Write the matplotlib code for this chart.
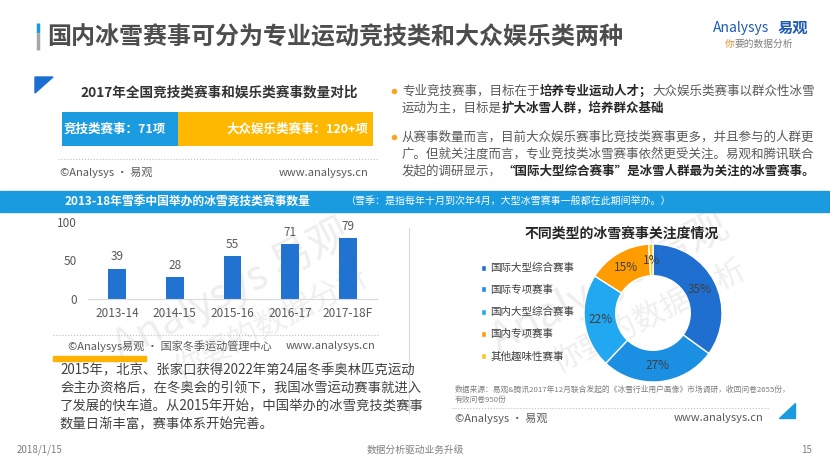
import matplotlib
matplotlib.use('Agg')
import matplotlib.pyplot as plt
from matplotlib.patches import Polygon, Rectangle
import numpy as np

plt.rcParams['font.family'] = ['Noto Sans CJK SC', 'DejaVu Sans']

W, H = 830, 467

# --- data ---
compare_values = [71, 120]
compare_text = ['竞技类赛事：71项', '大众娱乐类赛事：120+项']
compare_colors = ['#1B9BE0', '#FFB800']

seasons = ['2013-14', '2014-15', '2015-16', '2016-17', '2017-18F']
events = [39, 28, 55, 71, 79]

focus_labels = ['国际大型综合赛事', '国际专项赛事', '国内大型综合赛事', '国内专项赛事', '其他趣味性赛事']
focus_share = [35, 27, 22, 15, 1]
focus_colors = ['#1E6FCF', '#1B8FE2', '#22A8F0', '#FF9C00', '#FFC61A']

GRAY = '#595959'
DARK = '#262626'

fig = plt.figure(figsize=(8.3, 4.67), dpi=100)
bg = fig.add_axes([0, 0, 1, 1])
bg.set_xlim(0, W)
bg.set_ylim(H, 0)
bg.axis('off')


def px_axes(x0, y0, x1, y1):
    # axes placed in pixel coords of the slide (y downwards)
    return fig.add_axes([x0 / W, 1 - y1 / H, (x1 - x0) / W, (y1 - y0) / H])


def rich(x, y, parts, size=9):
    # chain text pieces so bold and regular runs sit side by side
    prev = None
    for txt, bold, color in parts:
        kw = dict(fontsize=size, color=color, fontweight='bold' if bold else 'normal')
        if prev is None:
            prev = bg.text(x, y, txt, ha='left', va='center', **kw)
        else:
            prev = bg.annotate(txt, xy=(1, 0), xycoords=prev, ha='left', va='bottom', **kw)


# watermarks
for cx, cy in [(232, 290), (610, 283)]:
    bg.text(cx, cy, 'Analysys 易观', fontsize=30, rotation=27, color='#eeeeee',
            ha='center', va='center', style='italic', zorder=0)
    bg.text(cx + 40, cy + 34, '你要的数据分析', fontsize=22, rotation=27, color='#efefef',
            ha='center', va='center', zorder=0)

# header
bg.plot([38, 38], [23, 33], color='#1A9BE0', lw=2.5, solid_capstyle='butt')
bg.plot([38, 38], [33, 50], color='#A6A6A6', lw=2.5, solid_capstyle='butt')
bg.text(47, 37, '国内冰雪赛事可分为专业运动竞技类和大众娱乐类两种', fontsize=17.3,
        fontweight='bold', color='#4D4D4D', ha='left', va='center')
bg.text(713, 28, 'Analysys', fontsize=10, style='italic', color='#1E5BB5', ha='left', va='center')
bg.text(808, 28, '易观', fontsize=11, fontweight='bold', color='#1E5BB5', ha='right', va='center')
rich(725, 44, [('你', False, '#F08A24'), ('要的数据分析', False, '#7F7F7F')], size=7)

# top-left block
bg.add_patch(Polygon([(35, 77), (53, 77), (35, 93)], closed=True, color='#1A6FD0'))
bg.text(219, 92, '2017年全国竞技类赛事和娱乐类赛事数量对比', fontsize=9.8,
        fontweight='bold', color='#333333', ha='center', va='center')

ax_cmp = px_axes(62, 112, 373, 146)
left = 0
for v, c in zip(compare_values, compare_colors):
    ax_cmp.barh(0, v, left=left, height=1, color=c)
    left += v
ax_cmp.set_xlim(0, sum(compare_values))
ax_cmp.set_ylim(-0.5, 0.5)
ax_cmp.axis('off')
ax_cmp.text(1, 0, compare_text[0], fontsize=9, fontweight='bold', color='white', ha='left', va='center')
ax_cmp.text(sum(compare_values) - 3, 0, compare_text[1], fontsize=9, fontweight='bold',
            color='white', ha='right', va='center')

bg.plot([58, 377], [159, 159], ls=':', color='#BFBFBF', lw=0.8)
bg.text(60, 173, '©Analysys · 易观', fontsize=8, color=GRAY, ha='left', va='center')
bg.text(368, 173, 'www.analysys.cn', fontsize=8, color=GRAY, ha='right', va='center')

# right text block
for by in [91, 137]:
    bg.scatter([394], [by], s=9, color='#F5A623', zorder=3)
fs = 9
rich(402, 91, [('专业竞技赛事，目标在于', False, GRAY), ('培养专业运动人才；', True, DARK),
               ('大众娱乐类赛事以群众性冰雪', False, GRAY)], fs)
rich(402, 108, [('运动为主，目标是', False, GRAY), ('扩大冰雪人群，培养群众基础', True, DARK)], fs)
rich(402, 137, [('从赛事数量而言，目前大众娱乐赛事比竞技类赛事更多，并且参与的人群更', False, GRAY)], fs)
rich(402, 154, [('广。但就关注度而言，专业竞技类冰雪赛事依然更受关注。易观和腾讯联合', False, GRAY)], fs)
rich(402, 171, [('发起的调研显示，', False, GRAY),
                ('“国际大型综合赛事”是冰雪人群最为关注的冰雪赛事。', True, DARK)], fs)

# blue band
bg.add_patch(Rectangle((0, 191), W, 21, color='#1A9BE0'))
bg.text(65, 202, '2013-18年雪季中国举办的冰雪竞技类赛事数量', fontsize=8.5,
        fontweight='bold', color='white', ha='left', va='center')
bg.text(345, 202, '（雪季：是指每年十月到次年4月，大型冰雪赛事一般都在此期间举办。）',
        fontsize=7.2, color='white', ha='left', va='center')

# bar chart
ax_bar = px_axes(88, 222, 377, 298.5)
ax_bar.patch.set_visible(False)
x = np.arange(len(seasons))
bars = ax_bar.bar(x, events, width=0.31, color='#2272D2')
for b, v in zip(bars, events):
    ax_bar.annotate(str(v), (b.get_x() + b.get_width() / 2, v), xytext=(0, 4),
                    textcoords='offset points', ha='center', va='bottom',
                    fontsize=8.5, color=GRAY)
ax_bar.set_xlim(-0.5, len(seasons) - 0.5)
ax_bar.set_ylim(0, 100)
ax_bar.set_yticks([0, 50, 100])
ax_bar.set_xticks(x, seasons)
ax_bar.tick_params(length=0, labelsize=8.5, labelcolor=GRAY)
ax_bar.tick_params(axis='y', pad=8)
ax_bar.tick_params(axis='x', pad=6)
for s in ['top', 'right', 'left']:
    ax_bar.spines[s].set_visible(False)
ax_bar.spines['bottom'].set_color('#D9D9D9')

bg.plot([53, 380], [335, 335], ls=':', color='#BFBFBF', lw=0.8)
bg.text(68, 346, '©Analysys易观 · 国家冬季运动管理中心', fontsize=8, color=GRAY, ha='left', va='center')
bg.text(375, 346, 'www.analysys.cn', fontsize=8, color=GRAY, ha='right', va='center')
bg.add_patch(Rectangle((53, 356), 93, 5, color='#FFB300'))

para = ['2015年，北京、张家口获得2022年第24届冬季奥林匹克运动',
        '会主办资格后，在冬奥会的引领下，我国冰雪运动赛事就进入',
        '了发展的快车道。从2015年开始，中国举办的冰雪竞技类赛事',
        '数量日渐丰富，赛事体系开始完善。']
for i, line in enumerate(para):
    bg.text(60, 370 + 18 * i, line, fontsize=9.6, color='#404040', ha='left', va='center')

# divider
bg.plot([409, 409], [228, 413], color='#D9D9D9', lw=0.8)

# donut
bg.text(622, 234, '不同类型的冰雪赛事关注度情况', fontsize=10, fontweight='bold',
        color='#262626', ha='center', va='center')
ax_pie = px_axes(584, 244, 722, 382)
wedges, _, autotexts = ax_pie.pie(
    focus_share, colors=focus_colors, startangle=90, counterclock=False,
    autopct=lambda p: f'{p:.0f}%', pctdistance=0.76,
    wedgeprops=dict(width=0.46, edgecolor='white', linewidth=1),
    textprops=dict(fontsize=8.5, color='#404040'))
ax_pie.set_xlim(-1, 1)
ax_pie.set_ylim(-1, 1)
ax_pie.legend(wedges, focus_labels, loc='upper left', bbox_to_anchor=(481 / W, 1 - 263 / H),
              bbox_transform=fig.transFigure, frameon=False, fontsize=7.6,
              handlelength=0.5, handleheight=0.5, handletextpad=0.4,
              labelspacing=1.12, borderpad=0, borderaxespad=0, labelcolor='#404040')

bg.text(455, 390, '数据来源：易观&腾讯2017年12月联合发起的《冰雪行业用户画像》市场调研，收回问卷2655份，',
        fontsize=5.6, color='#7F7F7F', ha='left', va='center')
bg.text(455, 400, '有效问卷950份', fontsize=5.6, color='#7F7F7F', ha='left', va='center')
bg.plot([452, 770], [408, 408], ls=':', color='#BFBFBF', lw=0.8)
bg.text(455, 418, '©Analysys · 易观', fontsize=8, color=GRAY, ha='left', va='center')
bg.text(763, 418, 'www.analysys.cn', fontsize=8, color=GRAY, ha='right', va='center')
bg.add_patch(Polygon([(795, 403), (795, 418), (779, 418)], closed=True, color='#1A9BE0'))

# footer
bg.text(17, 450, '2018/1/15', fontsize=7, color='#7F7F7F', ha='left', va='center')
bg.text(415, 450, '数据分析驱动业务升级', fontsize=7, color='#7F7F7F', ha='center', va='center')
bg.text(812, 450, '15', fontsize=7, color='#7F7F7F', ha='right', va='center')

fig.savefig('out.png', dpi=100)
